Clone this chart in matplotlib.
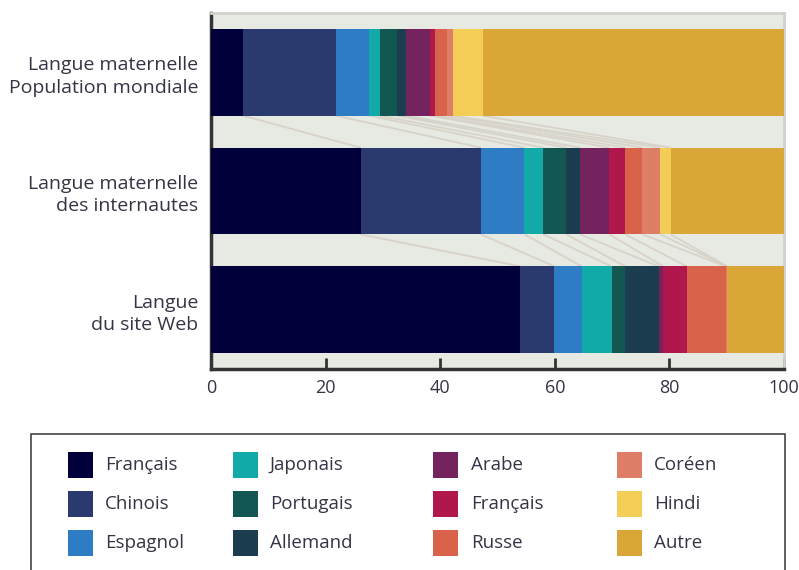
import matplotlib
matplotlib.use("Agg")
import matplotlib.pyplot as plt
from matplotlib.patches import Rectangle
import numpy as np

plt.rcParams["font.family"] = ["Open Sans", "DejaVu Sans"]

# Row labels (top to bottom)
rows = ["Langue maternelle\nPopulation mondiale",
        "Langue maternelle\ndes internautes",
        "Langue\ndu site Web"]

languages = ["Français", "Chinois", "Espagnol", "Japonais", "Portugais", "Allemand",
             "Arabe", "Français", "Russe", "Coréen", "Hindi", "Autre"]

colors = ["#01003a", "#2b3a6e", "#2e7cc4", "#12aaa9", "#125752", "#1b3d4f",
          "#75235f", "#b0174d", "#d9624a", "#df7e66", "#f3cd55", "#d9a637"]

# Shares in percent, in the order of `languages`
pop_mondiale = [5.6, 16.2, 5.8, 1.9, 3.0, 1.5, 4.2, 0.9, 2.1, 1.0, 5.2, 52.6]
internautes = [26.1, 21.0, 7.6, 3.3, 4.0, 2.4, 5.1, 2.8, 3.0, 3.1, 1.8, 19.8]
site_web = [54.0, 5.9, 4.8, 5.2, 2.4, 5.8, 0.8, 4.1, 6.8, 0.3, 0.0, 9.9]

xticks = [0, 20, 40, 60, 80, 100]

W, H = 799, 570
fig = plt.figure(figsize=(W / 100, H / 100), dpi=100)
ax = fig.add_axes([211 / W, 1 - 369 / H, (784 - 211) / W, (369 - 13) / H])
ax.set_facecolor("#e7e9e3")

data = np.array([pop_mondiale, internautes, site_web])
cum = np.cumsum(data, axis=1)
starts = cum - data
ypos = np.arange(len(rows))
bar_h = 0.73

for j, lang in enumerate(languages):
    ax.barh(ypos, data[:, j], left=starts[:, j], height=bar_h,
            color=colors[j], linewidth=0, zorder=3)

# Fan lines linking segment boundaries of consecutive bars
for i in range(len(rows) - 1):
    for k in range(len(languages) - 1):
        ax.plot([cum[i, k], cum[i + 1, k]], [i + bar_h / 2, i + 1 - bar_h / 2],
                color="#d8d3c9", lw=1.3, zorder=2, solid_capstyle="butt")

ax.set_xlim(0, 100)
ax.set_ylim(len(rows) - 0.5, -0.5)
ax.set_xticks(xticks)
ax.set_xticklabels([str(t) for t in xticks])
ax.set_yticks(ypos)
ax.set_yticklabels(rows)

text_color = "#343444"
ax.tick_params(axis="x", direction="in", length=8, width=2, color="#333333",
               pad=7, labelsize=13, labelcolor=text_color)
ax.tick_params(axis="y", length=0, pad=9, labelsize=14, labelcolor=text_color)
for lbl in ax.get_yticklabels():
    lbl.set_linespacing(1.3)

for side in ("left", "bottom"):
    ax.spines[side].set_color("#333333")
    ax.spines[side].set_linewidth(2.5)
for side in ("top", "right"):
    ax.spines[side].set_color("#d3d1c9")
    ax.spines[side].set_linewidth(2)

# Legend panel (open at the bottom edge of the figure)
def fx(px):
    return px / W

def fy(py):
    return 1 - py / H

frame = Rectangle((fx(31), fy(600)), fx(785) - fx(31), fy(434) - fy(600),
                  transform=fig.transFigure, fill=False, edgecolor="#444444",
                  linewidth=1.2, clip_on=False)
fig.patches.append(frame)

col_swatch_x = [68, 233, 433, 617]
col_text_x = [105, 270, 471, 654]
row_y = [465, 504, 543]
sw_w, sw_h = 25, 26
for j, lang in enumerate(languages):
    c, r = divmod(j, 3)
    x0 = col_swatch_x[c]
    yc = row_y[r]
    fig.patches.append(Rectangle((fx(x0), fy(yc + sw_h / 2)), fx(sw_w), sw_h / H,
                                 transform=fig.transFigure, facecolor=colors[j],
                                 edgecolor="none"))
    fig.text(fx(col_text_x[c]), fy(yc), lang, ha="left", va="center",
             fontsize=13.5, color=text_color)

fig.savefig("out.png", dpi=100)
